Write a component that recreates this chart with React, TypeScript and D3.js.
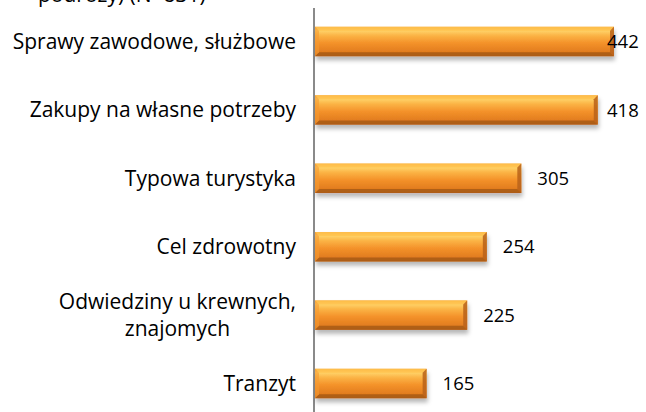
import React, { useEffect, useRef } from "react";
import * as d3 from "d3";

const categories: string[][] = [
  ["Sprawy zawodowe, służbowe"],
  ["Zakupy na własne potrzeby"],
  ["Typowa turystyka"],
  ["Cel zdrowotny"],
  ["Odwiedziny u krewnych,", "znajomych"],
  ["Tranzyt"],
];
const values: number[] = [442, 418, 305, 254, 225, 165];
const titleText = "podróży) (N=831)";

const W = 646;
const H = 412;

export default function App() {
  const ref = useRef<SVGSVGElement | null>(null);
  useEffect(() => {
    const svg = d3.select(ref.current);
    svg.selectAll("*").remove();
    const font = "'Open Sans', 'Noto Sans', sans-serif";
    const labelSize = 21;

    const defs = svg.append("defs");
    const g1 = defs.append("linearGradient").attr("id", "barGrad").attr("x1", 0).attr("y1", 0).attr("x2", 0).attr("y2", 1);
    [
      [0, "#f7a43a"],
      [0.12, "#ffd46a"],
      [0.3, "#fbb345"],
      [0.55, "#f4922a"],
      [0.85, "#e27d1f"],
      [1, "#c9691a"],
    ].forEach(([o, c]) => g1.append("stop").attr("offset", o as number).attr("stop-color", c as string));
    const f = defs.append("filter").attr("id", "shadow").attr("x", "-5%").attr("y", "-20%").attr("width", "115%").attr("height", "160%");
    f.append("feDropShadow").attr("dx", 1).attr("dy", 4).attr("stdDeviation", 2.2).attr("flood-color", "#000").attr("flood-opacity", 0.28);

    const x = d3.scaleLinear().domain([0, 442]).range([315, 614]);
    const y = d3
      .scaleBand<number>()
      .domain(d3.range(values.length))
      .range([7.3, 417.7])
      .paddingInner(0.57)
      .paddingOuter(0.285);

    // title fragment (cut off at top, as in the reference)
    svg
      .append("text")
      .attr("x", 38)
      .attr("y", 2)
      .attr("font-family", font)
      .attr("font-size", labelSize)
      .attr("fill", "#000")
      .text(titleText);

    // axis line
    svg
      .append("line")
      .attr("x1", 314)
      .attr("x2", 314)
      .attr("y1", 8)
      .attr("y2", H)
      .attr("stroke", "#8a8a8a")
      .attr("stroke-width", 2);

    const bw = 4;
    values.forEach((v, i) => {
      const x0 = x(0);
      const x1 = x(v);
      const y0 = y(i)!;
      const h = y.bandwidth();
      const y1 = y0 + h;
      const g = svg.append("g").attr("filter", "url(#shadow)");
      g.append("rect").attr("x", x0).attr("y", y0).attr("width", x1 - x0).attr("height", h).attr("fill", "url(#barGrad)");
      // bevels
      g.append("polygon")
        .attr("points", `${x0},${y0} ${x1},${y0} ${x1 - bw},${y0 + bw} ${x0 + bw},${y0 + bw}`)
        .attr("fill", "#ffc24e").attr("opacity", 0.8);
      g.append("polygon")
        .attr("points", `${x0},${y1} ${x1},${y1} ${x1 - bw},${y1 - bw} ${x0 + bw},${y1 - bw}`)
        .attr("fill", "#a85a16").attr("opacity", 0.85);
      g.append("polygon")
        .attr("points", `${x1},${y0} ${x1},${y1} ${x1 - bw},${y1 - bw} ${x1 - bw},${y0 + bw}`)
        .attr("fill", "#b9621a").attr("opacity", 0.85);
      g.append("polygon")
        .attr("points", `${x0},${y0} ${x0},${y1} ${x0 + bw},${y1 - bw} ${x0 + bw},${y0 + bw}`)
        .attr("fill", "#f59a30").attr("opacity", 0.6);

      // value label
      const lx = Math.min(x1 + 16, W - 39);
      svg
        .append("text")
        .attr("x", lx)
        .attr("y", y0 + h / 2)
        .attr("dy", "0.36em")
        .attr("font-family", font)
        .attr("font-size", 18.5)
        .attr("fill", "#000")
        .text(String(v));

      // category label
      const lines = categories[i];
      const cy = y0 + h / 2;
      if (lines.length === 1) {
        svg
          .append("text")
          .attr("x", 296)
          .attr("y", cy)
          .attr("dy", "0.36em")
          .attr("text-anchor", "end")
          .attr("font-family", font)
          .attr("font-size", labelSize)
          .attr("fill", "#000")
          .text(lines[0]);
      } else {
        const lh = 27;
        const first = svg
          .append("text")
          .attr("x", 296)
          .attr("y", cy - lh / 2)
          .attr("dy", "0.36em")
          .attr("text-anchor", "end")
          .attr("font-family", font)
          .attr("font-size", labelSize)
          .attr("fill", "#000")
          .text(lines[0]);
        const wdt = (first.node() as SVGTextElement).getComputedTextLength();
        lines.slice(1).forEach((ln, k) => {
          svg
            .append("text")
            .attr("x", 296 - wdt / 2)
            .attr("y", cy - lh / 2 + lh * (k + 1))
            .attr("dy", "0.36em")
            .attr("text-anchor", "middle")
            .attr("font-family", font)
            .attr("font-size", labelSize)
            .attr("fill", "#000")
            .text(ln);
        });
      }
    });
  }, []);
  return (
    <svg
      ref={ref}
      width={W}
      height={H}
      style={{ position: "absolute", left: 0, top: 0, background: "#fff" }}
    />
  );
}
